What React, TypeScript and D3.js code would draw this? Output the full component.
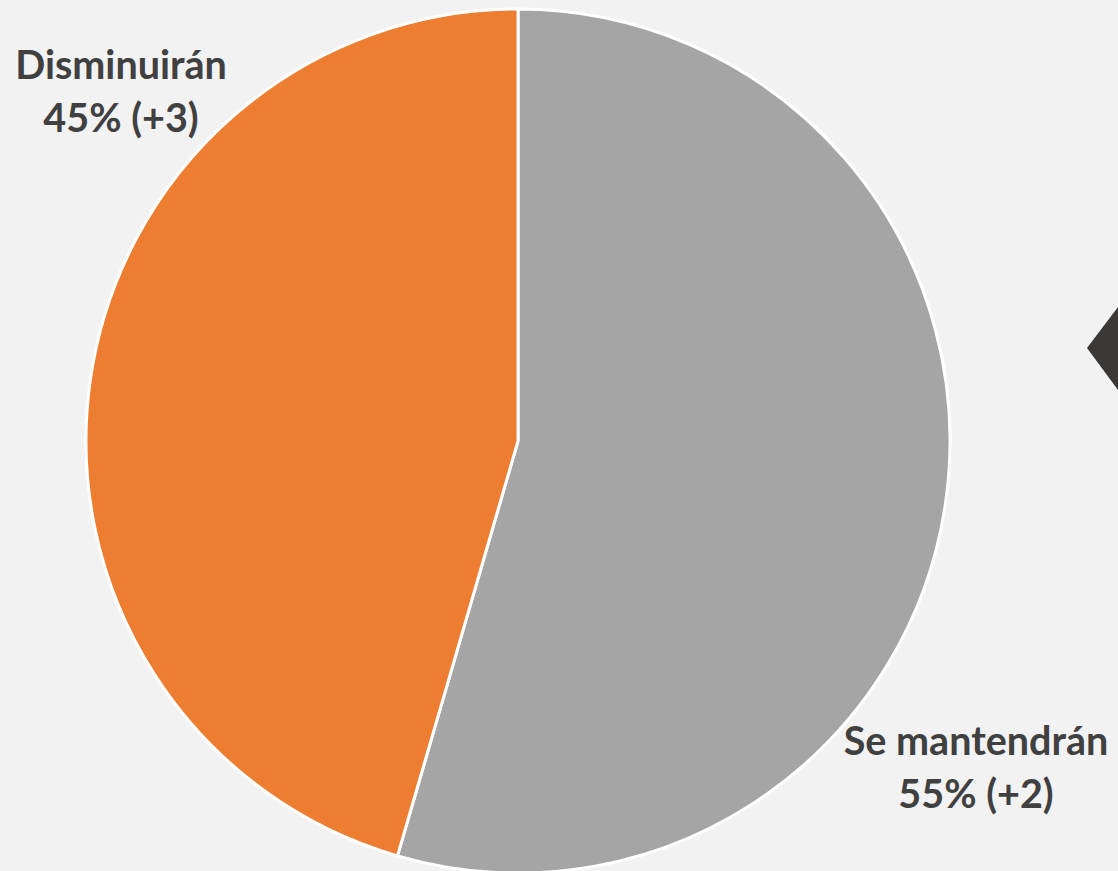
import React from 'react';
import * as d3 from 'd3';

// slices clockwise from 12 o'clock
const categories = ['Se mantendrán', 'Disminuirán'];
const shares = [54.5, 45.5];
const shareLabels = ['55% (+2)', '45% (+3)'];
const sliceColors = ['#A5A5A5', '#ED7D31'];

const W = 1118;
const H = 871;

const App = () => {
  const cx = 518;
  const cy = 441;
  const r = 432;

  const pie = d3.pie<number>().sort(null).value(d => d);
  const arcs = pie(shares);
  const arc = d3.arc<d3.PieArcDatum<number>>().innerRadius(0).outerRadius(r);

  // label anchor points (first baseline, centred)
  const labelPos = [
    { x: 976, y: 755 },
    { x: 121, y: 79 },
  ];

  return (
    <svg width={W} height={H} style={{ position: 'absolute', left: 0, top: 0 }}>
      <rect width={W} height={H} fill="#F2F2F2" />
      <g transform={`translate(${cx},${cy})`}>
        {arcs.map((a, i) => (
          <path key={categories[i]} d={arc(a) || ''} fill={sliceColors[i]}
            stroke="#FFFFFF" strokeWidth={3} strokeLinejoin="round" />
        ))}
      </g>
      {/* decorative arrow cut by the right edge */}
      <polygon points="1087,348 1118,307 1150,348 1118,390" fill="#3B3838" />
      {categories.map((c, i) => (
        <text key={c} x={labelPos[i].x} textAnchor="middle" fill="#404040"
          fontFamily="Lato, 'Open Sans', sans-serif" fontWeight={700} fontSize={39.5}>
          <tspan x={labelPos[i].x} y={labelPos[i].y}>{c}</tspan>
          <tspan x={labelPos[i].x} y={labelPos[i].y + 53}>{shareLabels[i]}</tspan>
        </text>
      ))}
    </svg>
  );
};

export default App;
